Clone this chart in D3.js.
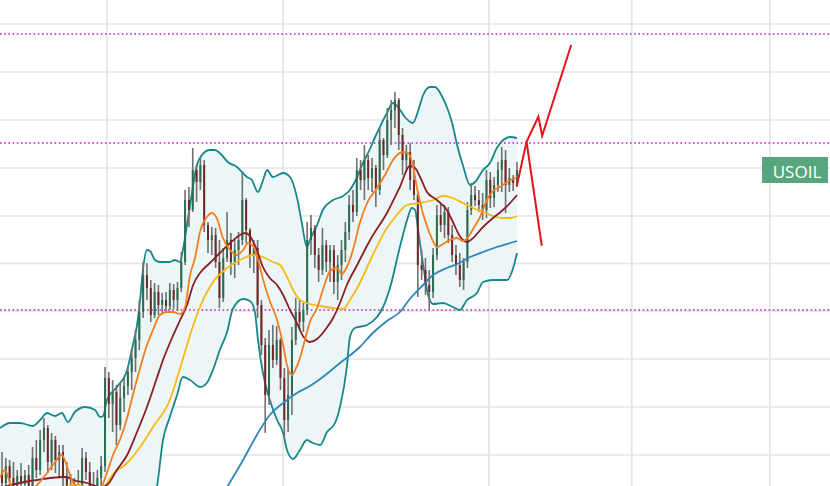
<!DOCTYPE html>
<html><head><meta charset="utf-8">
<script src="https://cdn.jsdelivr.net/npm/d3@7"></script>
<style>html,body{margin:0;padding:0;background:#fff;overflow:hidden}</style>
</head><body><svg id="c" width="830" height="486"></svg>
<script>
// ---- data (prices) ----
const opens=[66.12,65.68,66.36,65.88,65.44,65.96,65.64,66.0,65.56,66.68,
66.2,67.4,67.88,66.52,67.4,66.6,66.92,65.88,65.48,65.2,
65.64,65.32,66.68,66.12,65.48,65.12,65.88,66.36,69.88,68.84,
69.32,68.0,69.08,69.56,70.12,70.68,71.4,72.52,74.0,73.48,
72.4,73.32,72.8,73.0,72.76,73.4,73.0,73.48,74.52,77.0,
76.6,78.2,77.72,78.4,76.0,75.4,75.6,74.52,73.08,74.68,
75.4,74.52,75.0,75.4,77.0,75.8,74.8,75.08,72.8,71.2,
69.2,71.2,70.6,71.4,69.88,68.2,69.2,71.4,72.52,72.12,
72.6,75.4,75.88,74.8,74.2,75.2,74.52,75.0,73.72,74.4,
75.0,75.72,76.8,76.52,78.2,77.8,78.6,77.88,78.28,77.4,
79.4,78.8,80.2,80.6,81.0,79.6,78.6,78.92,77.8,77.2,
74.4,74.2,73.6,73.32,74.8,76.4,76.0,76.52,75.6,74.8,
74.4,73.8,74.52,76.6,77.2,77.0,76.8,76.6,77.8,77.08,
77.6,78.2,78.6,77.6,77.88,77.68];
const highs=[66.92,66.68,66.6,66.52,66.2,66.48,66.2,66.4,67.12,67.4,
67.8,68.28,68.0,67.68,67.56,67.2,67.2,66.52,66.04,65.88,
66.2,67.08,66.92,66.52,66.12,66.2,66.76,70.32,70.12,69.8,
69.6,69.68,69.88,70.36,71.08,71.8,73.0,74.52,74.48,73.8,
73.68,73.6,73.28,73.32,73.68,73.64,73.72,74.92,77.4,77.52,
79.08,78.4,78.68,78.6,76.12,75.92,75.88,75.4,75.08,76.52,
75.68,75.4,75.72,78.08,77.08,75.88,75.4,75.4,73.0,71.48,
71.8,72.0,71.96,71.48,70.28,70.28,71.92,73.08,73.0,72.88,
76.12,76.4,76.0,75.08,75.88,75.4,75.2,75.2,74.8,75.4,
76.12,77.2,77.4,78.68,78.6,79.2,78.8,78.68,78.4,79.88,
79.48,80.68,81.0,81.32,81.08,79.88,79.2,79.28,78.6,77.32,
75.0,74.68,74.2,75.08,76.8,76.88,76.8,76.72,76.0,75.2,
74.88,74.68,76.92,77.68,77.56,77.4,77.28,78.2,78.12,77.92,
78.52,79.12,79.0,78.28,78.0,78.52];
const lows=[65.32,65.08,65.48,65.16,65.0,65.4,65.12,65.24,65.4,65.88,
66.0,66.92,66.08,66.2,66.08,65.92,65.56,65.2,64.8,64.68,
65.0,65.16,65.8,65.24,64.8,64.8,65.4,66.12,68.28,67.72,
67.2,67.8,68.52,69.2,69.4,70.12,71.0,72.28,73.0,72.12,
72.28,72.4,72.48,72.52,72.6,72.64,72.56,73.32,74.4,75.92,
76.52,76.92,77.4,75.72,74.88,74.8,74.28,72.68,72.92,74.52,
74.0,73.88,74.4,75.2,75.28,74.28,74.08,72.28,70.8,67.68,
68.8,70.28,70.4,69.4,67.48,67.72,68.4,71.2,71.8,71.72,
72.4,74.8,74.28,73.72,74.0,74.12,73.72,73.24,73.0,73.8,
74.52,75.4,76.12,76.36,77.4,77.0,77.4,77.32,76.72,77.2,
78.2,78.68,79.2,79.88,79.0,78.0,78.12,77.4,77.0,73.12,
73.8,73.2,72.6,73.08,74.6,75.72,75.48,75.28,74.52,74.0,
73.52,73.4,74.28,76.4,76.76,76.52,76.2,76.28,76.68,76.72,
77.32,77.32,76.48,77.32,77.36,77.6];
const closes=[65.68,66.36,65.88,65.44,65.96,65.64,66.0,65.56,66.68,66.2,
67.4,67.88,66.52,67.4,66.6,66.92,65.88,65.48,65.2,65.64,
65.32,66.68,66.12,65.48,65.12,65.88,66.36,69.88,68.84,69.32,
68.0,69.08,69.56,70.12,70.68,71.4,72.52,74.0,73.48,72.4,
73.32,72.8,73.0,72.76,73.4,73.0,73.48,74.52,77.0,76.6,
78.2,77.72,78.4,76.0,75.4,75.6,74.52,73.08,74.68,75.4,
74.52,75.0,75.4,77.0,75.8,74.8,75.08,72.8,71.2,69.2,
71.2,70.6,71.4,69.88,68.2,69.2,71.4,72.52,72.12,72.6,
75.4,75.88,74.8,74.2,75.2,74.52,75.0,73.72,74.4,75.0,
75.72,76.8,76.52,78.2,77.8,78.6,77.88,78.28,77.4,79.4,
78.8,80.2,80.6,81.0,79.6,78.6,78.92,77.8,77.2,74.4,
74.2,73.6,73.32,74.8,76.4,76.0,76.52,75.6,74.8,74.4,
73.8,74.52,76.6,77.2,77.0,76.8,76.6,77.8,77.08,77.6,
78.2,78.6,77.6,77.88,77.68,78.2];

// Bollinger bands [bar index, price]
const bbUpper=[[-0.5,67.88],[2.1,68.08],[4.7,68.08],[8.1,67.96],[10.0,68.2],[11.8,68.48],[13.9,68.36],[15.7,68.48],[17.3,68.12],[19.1,68.52],[21.8,68.72],[24.4,68.6],[25.7,68.32],[26.5,68.36],[27.5,69.0],[30.1,69.52],[32.8,70.2],[34.3,71.2],[35.4,72.0],[36.2,73.0],[37.0,74.28],[38.0,75.0],[38.8,74.96],[40.1,74.6],[41.4,74.52],[44.0,74.52],[45.3,74.6],[46.7,74.52],[47.4,75.0],[49.3,76.8],[51.1,78.4],[52.4,78.8],[54.5,79.0],[55.8,79.0],[57.1,78.88],[59.2,78.52],[61.6,78.32],[64.2,77.92],[65.5,77.8],[67.1,77.32],[68.2,77.68],[69.5,78.2],[71.0,77.92],[73.7,78.08],[75.5,77.92],[77.3,77.12],[78.6,76.08],[79.9,75.12],[80.7,75.4],[82.6,76.0],[84.1,76.6],[86.8,77.0],[89.4,77.16],[91.2,77.4],[93.1,77.92],[94.6,78.48],[95.7,78.8],[98.3,79.68],[100.9,80.48],[102.5,80.88],[103.8,80.72],[105.6,80.32],[107.7,80.08],[109.0,80.52],[110.4,81.2],[112.2,81.52],[113.5,81.52],[115.3,81.16],[116.9,80.6],[118.0,80.08],[119.3,79.2],[120.8,78.4],[122.7,77.6],[124.0,77.72],[126.1,78.2],[127.9,78.48],[129.7,79.08],[131.4,79.4],[133.2,79.52],[135.0,79.48]];
const bbLower=[[-0.5,63.4],[12.6,63.6],[25.7,63.4],[29.6,62.6],[33.6,62.6],[37.5,64.0],[38.8,64.8],[40.6,65.52],[42.2,67.4],[44.0,68.32],[45.9,69.2],[47.4,69.92],[49.3,69.8],[51.9,69.52],[53.7,69.68],[55.3,70.2],[57.1,71.0],[59.0,71.72],[60.5,72.64],[63.2,73.04],[65.0,72.96],[66.3,72.52],[67.1,71.4],[68.4,70.08],[70.2,69.0],[72.1,68.2],[73.7,67.68],[74.7,67.0],[76.3,66.64],[78.1,67.0],[79.9,67.4],[81.5,67.28],[83.4,67.2],[85.2,67.72],[87.3,68.08],[88.6,68.72],[90.4,70.32],[91.2,71.52],[92.5,71.88],[95.7,72.0],[98.3,72.32],[99.9,72.72],[101.7,73.48],[104.3,75.12],[106.2,76.2],[107.4,76.68],[108.3,76.6],[109.0,75.88],[110.4,74.4],[111.7,73.2],[113.0,72.84],[115.6,72.88],[118.2,72.72],[120.0,72.6],[121.9,73.0],[124.5,73.28],[126.1,73.72],[128.7,73.8],[132.4,73.8],[134.0,74.28],[135.0,74.88]];
// moving averages [bar index, price]
const maFast=[[-0.5,65.92],[0.8,66.2],[2.1,65.68],[3.4,65.32],[6.0,65.2],[9.2,65.6],[11.8,66.08],[13.9,66.52],[15.7,66.8],[17.0,66.36],[18.3,65.8],[20.4,65.32],[23.1,65.12],[25.7,65.4],[27.5,66.08],[29.1,66.8],[30.9,67.4],[32.8,68.28],[34.3,69.2],[36.2,70.28],[38.0,71.2],[39.6,71.8],[41.4,72.4],[43.2,72.52],[44.8,72.52],[46.7,72.44],[48.0,72.72],[49.3,74.0],[50.6,74.68],[51.9,75.72],[53.7,76.32],[55.0,76.48],[56.4,76.24],[57.9,75.48],[59.8,75.0],[61.6,74.8],[63.2,75.0],[64.5,75.28],[65.8,75.16],[67.1,74.6],[68.4,73.84],[70.2,72.96],[72.1,72.2],[73.7,71.2],[74.7,70.4],[76.0,70.0],[77.1,70.28],[78.1,70.68],[79.4,71.4],[80.7,72.12],[82.6,72.68],[84.1,73.4],[86.0,74.16],[87.8,74.28],[89.1,74.04],[90.4,74.32],[92.0,75.0],[93.8,76.08],[95.7,76.88],[98.3,77.48],[100.4,78.0],[102.5,78.6],[105.1,78.92],[106.4,78.88],[107.5,78.52],[108.8,77.48],[110.1,76.6],[111.4,75.96],[112.7,75.44],[114.0,75.12],[115.6,75.24],[117.4,75.4],[119.3,75.48],[120.8,75.36],[122.2,75.52],[123.5,75.84],[125.3,76.32],[127.1,77.0],[128.7,77.36],[130.5,77.52],[132.4,77.72],[134.0,77.84],[135.0,77.92]];
const maMid=[[-0.5,65.48],[3.4,65.64],[7.3,65.76],[9.2,65.8],[12.6,65.88],[17.0,65.92],[18.6,65.8],[22.3,65.68],[25.7,65.52],[27.5,65.6],[30.1,66.2],[32.8,66.8],[35.4,67.72],[38.0,68.72],[40.6,69.88],[42.2,70.6],[44.0,71.28],[46.7,72.2],[48.5,72.8],[50.1,73.6],[51.9,74.08],[54.5,74.48],[57.1,74.88],[59.8,75.28],[62.4,75.6],[63.7,75.68],[65.0,75.56],[66.8,75.0],[68.4,74.32],[70.2,73.88],[72.1,73.6],[73.7,73.2],[75.5,72.6],[77.3,72.08],[78.9,71.56],[80.7,71.32],[82.6,71.44],[84.7,71.8],[86.8,72.28],[88.6,72.88],[90.4,73.6],[93.1,74.4],[96.5,75.4],[100.9,76.48],[104.3,77.52],[106.9,78.36],[108.3,78.28],[109.6,77.92],[111.4,77.32],[114.0,77.0],[116.6,76.6],[118.2,76.12],[120.0,75.56],[121.9,75.32],[123.5,75.48],[126.1,75.92],[128.7,76.28],[131.3,76.6],[133.2,76.88],[135.0,77.2]];
const maSlow=[[-0.5,65.2],[7.3,65.32],[12.6,65.48],[16.0,65.52],[19.7,65.6],[22.3,65.52],[26.5,65.52],[29.1,66.04],[32.8,66.48],[36.2,67.12],[39.6,67.92],[44.0,69.0],[46.7,70.28],[49.3,71.6],[51.9,72.72],[55.3,73.72],[59.0,74.28],[62.4,74.6],[65.8,74.8],[68.4,74.72],[71.0,74.52],[72.9,74.4],[74.7,73.92],[76.3,73.4],[78.1,73.0],[80.7,72.84],[83.4,72.76],[86.8,72.68],[89.4,72.64],[91.2,73.0],[93.8,73.68],[97.2,74.8],[100.9,75.88],[103.5,76.4],[106.2,76.8],[109.6,76.88],[113.0,77.0],[115.6,77.16],[118.2,77.08],[120.8,76.88],[123.5,76.68],[126.1,76.52],[128.7,76.36],[131.3,76.28],[133.2,76.28],[135.0,76.36]];
const maLong=[[53.2,64.2],[59.0,65.52],[63.2,66.6],[66.8,67.6],[70.2,68.4],[73.7,68.88],[77.3,69.28],[80.7,69.56],[84.1,69.92],[88.6,70.48],[93.8,71.12],[97.2,71.68],[100.9,72.16],[104.3,72.52],[106.9,73.04],[110.4,73.6],[113.0,74.0],[116.6,74.28],[119.3,74.44],[122.7,74.72],[126.1,74.92],[129.7,75.12],[133.2,75.28],[135.0,75.36]];
// forecast drawing
const forecastUp=[[134.9,77.53],[137.5,79.33],[140.6,80.33],[141.6,79.57],[149.2,83.2]];
const forecastDown=[[137.5,79.33],[141.5,75.17]];
// levels & grid
const levels=[83.64,79.28,72.6];
const gridPrices=[84.04,82.12,80.2,78.28,76.36,74.46,72.56,70.64,68.72,66.8];
const gridIdx=[27.5,73.7,127.6,165.1,201.3];
const symbol="USOIL";

// ---- drawing ----
const W=830,H=486;
const svg=d3.select("#c");
const x=d3.scaleLinear().domain([0,135]).range([2,517]);
const y=d3.scaleLinear().domain([85,65]).range([0,500]);

svg.append("rect").attr("width",W).attr("height",H).attr("fill","#fff");

const g=svg.append("g");
g.selectAll("line.hg").data(gridPrices).join("line").attr("class","hg")
 .attr("x1",0).attr("x2",W).attr("y1",d=>y(d)).attr("y2",d=>y(d))
 .attr("stroke","#e4e4e4").attr("stroke-width",1.6);
g.selectAll("line.vg").data(gridIdx).join("line").attr("class","vg")
 .attr("y1",0).attr("y2",H).attr("x1",d=>x(d)).attr("x2",d=>x(d))
 .attr("stroke","#e4e4e4").attr("stroke-width",1.6);

const line=d3.line().x(d=>x(d[0])).y(d=>y(d[1])).curve(d3.curveMonotoneX);

// band fill
const up=line(bbUpper);
const lo=line(bbLower.slice().reverse()).replace(/^M/,"L");
svg.append("path").attr("d",up+lo+"Z").attr("fill","#edf6f6").attr("stroke","none");

// dotted levels
svg.selectAll("line.lv").data(levels).join("line").attr("class","lv")
 .attr("x1",0).attr("x2",W).attr("y1",d=>y(d)).attr("y2",d=>y(d))
 .attr("stroke","#c21bc6").attr("stroke-width",1.6).attr("stroke-dasharray","1.6,2.6");

// band lines
[bbUpper,bbLower].forEach(s=>svg.append("path").attr("d",line(s)).attr("fill","none")
 .attr("stroke","#17878a").attr("stroke-width",1.8));

// candles
const idx=d3.range(opens.length);
const cg=svg.append("g");
cg.selectAll("line.wk").data(idx).join("line").attr("class","wk")
 .attr("x1",i=>x(i)).attr("x2",i=>x(i)).attr("y1",i=>y(highs[i])).attr("y2",i=>y(lows[i]))
 .attr("stroke","#6f6f6f").attr("stroke-width",1.6);
cg.selectAll("rect.bd").data(idx).join("rect").attr("class","bd")
 .attr("x",i=>x(i)-1).attr("width",2)
 .attr("y",i=>y(Math.max(opens[i],closes[i])))
 .attr("height",i=>Math.max(1,Math.abs(y(opens[i])-y(closes[i]))))
 .attr("fill",i=>closes[i]>=opens[i]?"#276e52":"#742628");

// moving averages
const mas=[[maLong,"#2c86b8"],[maSlow,"#f7b816"],[maMid,"#8a1f26"],[maFast,"#f47e1e"]];
mas.forEach(([s,c])=>svg.append("path").attr("d",line(s)).attr("fill","none")
 .attr("stroke",c).attr("stroke-width",1.8));

// forecast
const straight=d3.line().x(d=>x(d[0])).y(d=>y(d[1]));
[forecastUp,forecastDown].forEach(s=>svg.append("path").attr("d",straight(s)).attr("fill","none")
 .attr("stroke","#e0161c").attr("stroke-width",2).attr("stroke-linejoin","miter"));

// symbol label at last close
const ly=y(closes[closes.length-1]);
svg.append("rect").attr("x",762).attr("y",ly-13).attr("width",66).attr("height",26).attr("fill","#58a67e");
svg.append("text").attr("x",797).attr("y",ly+1).attr("text-anchor","middle").attr("dominant-baseline","central")
 .attr("font-family","'Open Sans',sans-serif").attr("font-size",17).attr("fill","#fff").text(symbol);
</script></body></html>
